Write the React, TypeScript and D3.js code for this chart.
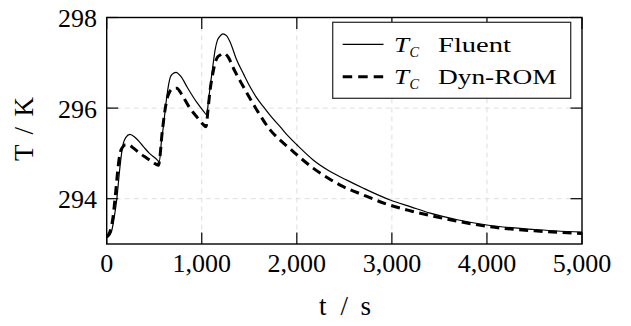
import React from "react";
import * as d3 from "d3";

// Time samples (s) and centre temperature (K) for each model
const fluentTime = [0, 20, 50, 80, 105, 140, 160, 175, 200, 245, 300, 386, 450, 510, 554, 575, 596, 615, 632, 650, 666, 690, 729, 780, 850, 950, 1020, 1053, 1070, 1088, 1115, 1140, 1165, 1193, 1221, 1260, 1300, 1368, 1440, 1508, 1580, 1649, 1735, 1824, 1910, 2000, 2175, 2351, 2526, 2701, 2982, 3200, 3403, 3700, 4000, 4500, 5000];
const fluentTemp = [293.15, 293.17, 293.27, 293.6, 293.97, 294.71, 295.05, 295.22, 295.35, 295.42, 295.35, 295.15, 295.0, 294.9, 294.82, 295.25, 295.59, 295.95, 296.25, 296.5, 296.66, 296.75, 296.79, 296.7, 296.45, 296.12, 295.93, 295.85, 296.15, 296.47, 296.9, 297.28, 297.5, 297.59, 297.64, 297.6, 297.45, 297.06, 296.75, 296.47, 296.22, 296.03, 295.8, 295.59, 295.38, 295.19, 294.85, 294.6, 294.41, 294.23, 293.97, 293.82, 293.68, 293.53, 293.42, 293.32, 293.26];

const romTime = [0, 30, 60, 90, 120, 140, 165, 200, 228, 280, 350, 420, 490, 545, 560, 579, 600, 632, 660, 700, 737, 790, 860, 950, 1010, 1045, 1065, 1088, 1115, 1140, 1165, 1193, 1228, 1280, 1333, 1438, 1579, 1719, 1820, 1930, 2050, 2175, 2310, 2456, 2701, 2947, 3200, 3579, 4035, 4500, 5000];
const romTemp = [293.15, 293.25, 293.5, 294.05, 294.7, 295.0, 295.13, 295.19, 295.19, 295.12, 295.0, 294.9, 294.8, 294.74, 294.92, 295.37, 295.75, 296.18, 296.35, 296.43, 296.44, 296.3, 296.05, 295.8, 295.65, 295.59, 295.95, 296.4, 296.75, 296.99, 297.12, 297.17, 297.21, 297.12, 296.88, 296.47, 295.96, 295.52, 295.3, 295.1, 294.88, 294.67, 294.48, 294.3, 294.08, 293.88, 293.73, 293.55, 293.38, 293.29, 293.23];

const xTicks = [0, 1000, 2000, 3000, 4000, 5000];
const yTicks = [294, 296, 298];

const W = 631;
const H = 326;
const plot = { left: 106.7, right: 582, top: 17.5, bottom: 244 };
const FONT = "'Liberation Serif', 'DejaVu Serif', serif";

function LegendLabel({ y, word, wordWidth }: { y: number; word: string; wordWidth: number }) {
  return (
    <g fill="#000">
      <text x={394} y={y} fontSize={21} fontStyle="italic" textLength={15} lengthAdjust="spacingAndGlyphs">
        T
      </text>
      <text x={409.5} y={y + 4.4} fontSize={15} fontStyle="italic" textLength={9.5} lengthAdjust="spacingAndGlyphs">
        C
      </text>
      <text x={438} y={y} fontSize={21} textLength={wordWidth} lengthAdjust="spacingAndGlyphs">
        {word}
      </text>
    </g>
  );
}

export default function App() {
  const x = d3.scaleLinear().domain([0, 5000]).range([plot.left, plot.right]);
  const y = d3.scaleLinear().domain([293, 298]).range([plot.bottom, plot.top]);

  const line = d3
    .line<[number, number]>()
    .x((d) => x(d[0]))
    .y((d) => y(d[1]))
    .curve(d3.curveMonotoneX);

  const fluent = line(fluentTime.map((t, i) => [t, fluentTemp[i]] as [number, number])) || "";
  const rom = line(romTime.map((t, i) => [t, romTemp[i]] as [number, number])) || "";
  const fmt = d3.format(",");
  const tickLen = 11.5;
  const cx = (plot.left + plot.right) / 2;
  const cy = (plot.top + plot.bottom) / 2;

  const lg = { x0: 332.7, y0: 22.3, x1: 570.7, y1: 98.3 };

  return (
    <svg
      width={W}
      height={H}
      style={{ position: "absolute", left: 0, top: 0, background: "#fff" }}
      fontFamily={FONT}
    >
      <defs>
        <clipPath id="plotArea">
          <rect x={plot.left} y={plot.top} width={plot.right - plot.left} height={plot.bottom - plot.top} />
        </clipPath>
      </defs>

      {/* grid */}
      <g stroke="#dedede" strokeWidth={1} strokeDasharray="5 4">
        {xTicks.slice(1, -1).map((t) => (
          <line key={"gx" + t} x1={x(t)} x2={x(t)} y1={plot.top} y2={plot.bottom} />
        ))}
        {yTicks.filter((t) => t !== 298).map((t) => (
          <line key={"gy" + t} x1={plot.left} x2={plot.right} y1={y(t)} y2={y(t)} />
        ))}
      </g>

      {/* curves */}
      <g clipPath="url(#plotArea)" fill="none">
        <path d={fluent} stroke="#000" strokeWidth={1.2} />
        <path d={rom} stroke="#000" strokeWidth={3} strokeDasharray="9 5.5" />
      </g>

      {/* ticks */}
      <g stroke="#000" strokeWidth={1.2}>
        {xTicks.map((t) => (
          <g key={"tx" + t}>
            <line x1={x(t)} x2={x(t)} y1={plot.bottom} y2={plot.bottom - tickLen} />
            <line x1={x(t)} x2={x(t)} y1={plot.top} y2={plot.top + tickLen} />
          </g>
        ))}
        {yTicks.map((t) => (
          <g key={"ty" + t}>
            <line x1={plot.left} x2={plot.left + tickLen} y1={y(t)} y2={y(t)} />
            <line x1={plot.right} x2={plot.right - tickLen} y1={y(t)} y2={y(t)} />
          </g>
        ))}
      </g>

      {/* frame */}
      <rect
        x={plot.left}
        y={plot.top}
        width={plot.right - plot.left}
        height={plot.bottom - plot.top}
        fill="none"
        stroke="#000"
        strokeWidth={1.4}
      />

      {/* tick labels */}
      <g fontSize={26} fill="#000">
        {xTicks.map((t) => (
          <text key={"lx" + t} x={x(t)} y={272} textAnchor="middle">
            {fmt(t)}
          </text>
        ))}
        {yTicks.map((t) => (
          <text key={"ly" + t} x={97} y={y(t) + 9.5} textAnchor="end">
            {t}
          </text>
        ))}
      </g>

      {/* x axis title: t / s */}
      <g fontSize={27} fill="#000" textAnchor="middle">
        <text x={cx - 21.5} y={315}>t</text>
        <text x={cx} y={315}>/</text>
        <text x={cx + 21.5} y={315}>s</text>
      </g>

      {/* y axis title: T / K */}
      <g transform={`translate(33, ${cy}) rotate(-90)`} fontSize={27} fill="#000" textAnchor="middle">
        <text x={-22}>T</text>
        <text x={0}>/</text>
        <text x={24}>K</text>
      </g>

      {/* legend */}
      <rect
        x={lg.x0}
        y={lg.y0}
        width={lg.x1 - lg.x0}
        height={lg.y1 - lg.y0}
        fill="#fff"
        stroke="#333"
        strokeWidth={1.3}
      />
      <line x1={342.7} x2={383.5} y1={44.3} y2={44.3} stroke="#000" strokeWidth={1.2} />
      <line x1={342.7} x2={383.5} y1={76.7} y2={76.7} stroke="#000" strokeWidth={3} strokeDasharray="9.5 6" />
      <LegendLabel y={52.3} word="Fluent" wordWidth={73} />
      <LegendLabel y={84.3} word="Dyn-ROM" wordWidth={118.5} />
    </svg>
  );
}
